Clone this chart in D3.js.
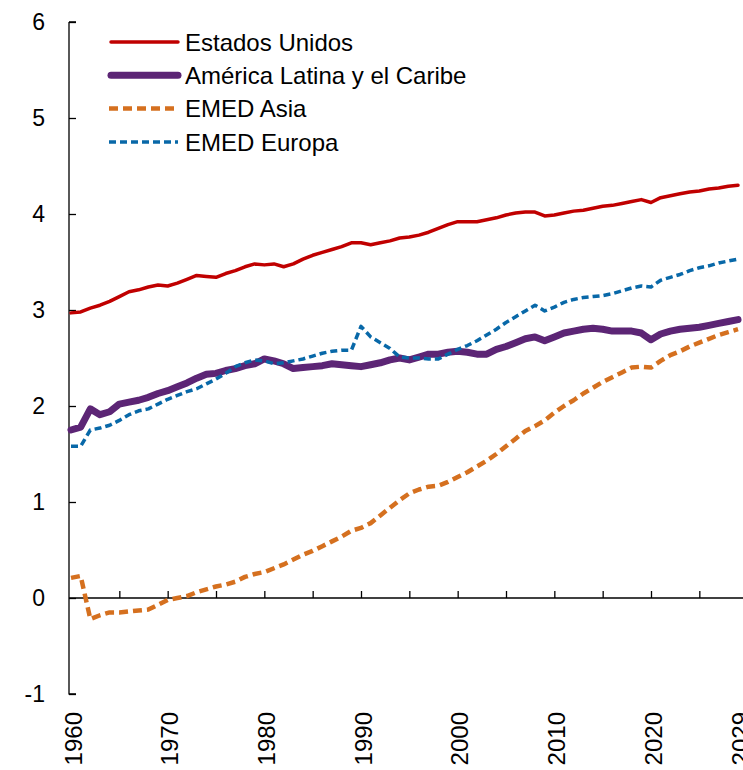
<html>
<head>
	<meta charset="utf-8">
	<script src="https://cdn.jsdelivr.net/npm/d3@7"></script>
	<style>
		body { margin: 0; background: #fff; }
		text { font-family: Arial, "Liberation Sans", sans-serif; fill: #000; }
	</style>
</head>
<body>
	<svg></svg>
</body>
<script type="text/javascript">
	// years 1960 - 2029
	var years = d3.range(1960, 2030);

	var estadosUnidos = [
		2.97, 2.98, 3.02, 3.05, 3.09, 3.14, 3.19, 3.21, 3.24, 3.26,
		3.25, 3.28, 3.32, 3.36, 3.35, 3.34, 3.38, 3.41, 3.45, 3.48,
		3.47, 3.48, 3.45, 3.48, 3.53, 3.57, 3.60, 3.63, 3.66, 3.70,
		3.70, 3.68, 3.70, 3.72, 3.75, 3.76, 3.78, 3.81, 3.85, 3.89,
		3.92, 3.92, 3.92, 3.94, 3.96, 3.99, 4.01, 4.02, 4.02, 3.98,
		3.99, 4.01, 4.03, 4.04, 4.06, 4.08, 4.09, 4.11, 4.13, 4.15,
		4.12, 4.17, 4.19, 4.21, 4.23, 4.24, 4.26, 4.27, 4.29, 4.30];

	var americaLatina = [
		1.75, 1.78, 1.97, 1.91, 1.94, 2.02, 2.04, 2.06, 2.09, 2.13,
		2.16, 2.20, 2.24, 2.29, 2.33, 2.34, 2.37, 2.39, 2.42, 2.44,
		2.49, 2.47, 2.44, 2.39, 2.40, 2.41, 2.42, 2.44, 2.43, 2.42,
		2.41, 2.43, 2.45, 2.48, 2.50, 2.48, 2.51, 2.54, 2.54, 2.56,
		2.57, 2.56, 2.54, 2.54, 2.59, 2.62, 2.66, 2.70, 2.72, 2.68,
		2.72, 2.76, 2.78, 2.80, 2.81, 2.80, 2.78, 2.78, 2.78, 2.76,
		2.69, 2.75, 2.78, 2.80, 2.81, 2.82, 2.84, 2.86, 2.88, 2.90];

	var emedAsia = [
		0.21, 0.23, -0.22, -0.18, -0.15, -0.15, -0.14, -0.13, -0.12, -0.07,
		-0.02, 0.00, 0.02, 0.06, 0.09, 0.12, 0.14, 0.17, 0.22, 0.25,
		0.27, 0.31, 0.35, 0.40, 0.45, 0.49, 0.54, 0.59, 0.64, 0.70,
		0.73, 0.78, 0.86, 0.94, 1.02, 1.09, 1.13, 1.16, 1.17, 1.21,
		1.26, 1.31, 1.37, 1.43, 1.50, 1.58, 1.66, 1.74, 1.79, 1.85,
		1.93, 2.00, 2.06, 2.13, 2.19, 2.25, 2.30, 2.35, 2.40, 2.41,
		2.40, 2.47, 2.53, 2.57, 2.62, 2.66, 2.70, 2.74, 2.77, 2.80];

	var emedEuropa = [
		1.58, 1.58, 1.75, 1.77, 1.80, 1.85, 1.91, 1.95, 1.97, 2.02,
		2.07, 2.11, 2.15, 2.18, 2.23, 2.28, 2.34, 2.41, 2.45, 2.48,
		2.47, 2.44, 2.45, 2.47, 2.49, 2.52, 2.55, 2.57, 2.58, 2.58,
		2.83, 2.72, 2.66, 2.60, 2.51, 2.50, 2.50, 2.49, 2.49, 2.54,
		2.59, 2.63, 2.68, 2.74, 2.80, 2.87, 2.93, 2.99, 3.05, 2.99,
		3.03, 3.08, 3.11, 3.13, 3.14, 3.15, 3.17, 3.20, 3.23, 3.25,
		3.24, 3.31, 3.34, 3.37, 3.41, 3.44, 3.46, 3.49, 3.51, 3.53];

	var seriesNames = ["Estados Unidos", "América Latina y el Caribe", "EMED Asia", "EMED Europa"];
	var yTicks = [-1, 0, 1, 2, 3, 4, 5, 6];
	var xTickMarks = [1965, 1970, 1975, 1980, 1985, 1990, 1995, 2000, 2005, 2010, 2015, 2020, 2025];
	var xLabels = [1960, 1970, 1980, 1990, 2000, 2010, 2020, 2029];

	var styles = [
		{"color": "#C00000", "width": 3.5, "dash": null},
		{"color": "#5C2575", "width": 7, "dash": null},
		{"color": "#D5701F", "width": 4.5, "dash": "9,5"},
		{"color": "#0868A8", "width": 3.5, "dash": "7,4"}
	];
	var allValues = [estadosUnidos, americaLatina, emedAsia, emedEuropa];

	var width = 743, height = 770;
	var svg = d3.select("svg").attr("width", width).attr("height", height);

	var x = d3.scaleLinear().domain([1960, 2029]).range([71, 738]);
	var y = d3.scaleLinear().domain([-1, 6]).range([694, 22]);
	var axisX = 69;

	// y axis, ticks point inward
	var yAxis = svg.append("g")
		.attr("transform", "translate(" + axisX + ",0)")
		.call(d3.axisLeft(y).tickValues(yTicks).tickSize(-7).tickSizeOuter(0).tickPadding(24)
			.tickFormat(function(d){ return String(d); }));
	yAxis.selectAll("text").style("font-size", "23px");
	yAxis.selectAll("line, path").attr("stroke", "#000").attr("stroke-width", 1.3);
	// cap at the top / bottom like the reference
	yAxis.select(".domain").attr("d", "M-0.5," + y(-1) + "H7M0," + y(-1) + "V" + y(6) + "M0," + y(6) + "H7");

	// x axis on the zero line, ticks upward
	var xAxis = svg.append("g")
		.attr("transform", "translate(0," + y(0) + ")")
		.call(d3.axisBottom(x).tickValues(xTickMarks).tickSize(-7).tickSizeOuter(0).tickFormat(""));
	xAxis.select(".domain").remove();
	xAxis.selectAll("line").attr("stroke", "#000").attr("stroke-width", 1.3);
	svg.append("line")
		.attr("x1", axisX).attr("x2", width)
		.attr("y1", y(0)).attr("y2", y(0))
		.attr("stroke", "#000").attr("stroke-width", 1.5);

	// rotated year labels
	svg.append("g").selectAll("text")
		.data(xLabels)
		.enter().append("text")
		.attr("transform", function(d){ return "translate(" + (x(d) + 2) + ",712) rotate(-90)"; })
		.attr("text-anchor", "end")
		.attr("dy", "0.36em")
		.style("font-size", "24px")
		.text(function(d){ return d; });

	var line = d3.line()
		.x(function(d){ return x(d.year); })
		.y(function(d){ return y(d.value); });

	allValues.forEach(function(vals, i){
		var pts = years.map(function(yr, j){ return {"year": yr, "value": vals[j]}; });
		svg.append("path")
			.datum(pts)
			.attr("fill", "none")
			.attr("stroke", styles[i].color)
			.attr("stroke-width", styles[i].width)
			.attr("stroke-linejoin", "round")
			.attr("stroke-linecap", styles[i].dash ? "butt" : "round")
			.attr("stroke-dasharray", styles[i].dash)
			.attr("d", line);
	});

	// legend
	var legend = svg.append("g").selectAll("g")
		.data(seriesNames)
		.enter().append("g")
		.attr("transform", function(d, i){ return "translate(0," + (42 + i * 33.3) + ")"; });
	legend.append("line")
		.attr("x1", function(d, i){ return styles[i].dash ? 109 : 111; })
		.attr("x2", 178)
		.attr("stroke", function(d, i){ return styles[i].color; })
		.attr("stroke-width", function(d, i){ return styles[i].width; })
		.attr("stroke-linecap", function(d, i){ return styles[i].dash ? "butt" : "round"; })
		.attr("stroke-dasharray", function(d, i){ return styles[i].dash; });
	legend.append("text")
		.attr("x", 185)
		.attr("dy", "0.36em")
		.style("font-size", "24px")
		.text(function(d){ return d; });
</script>
</html>
